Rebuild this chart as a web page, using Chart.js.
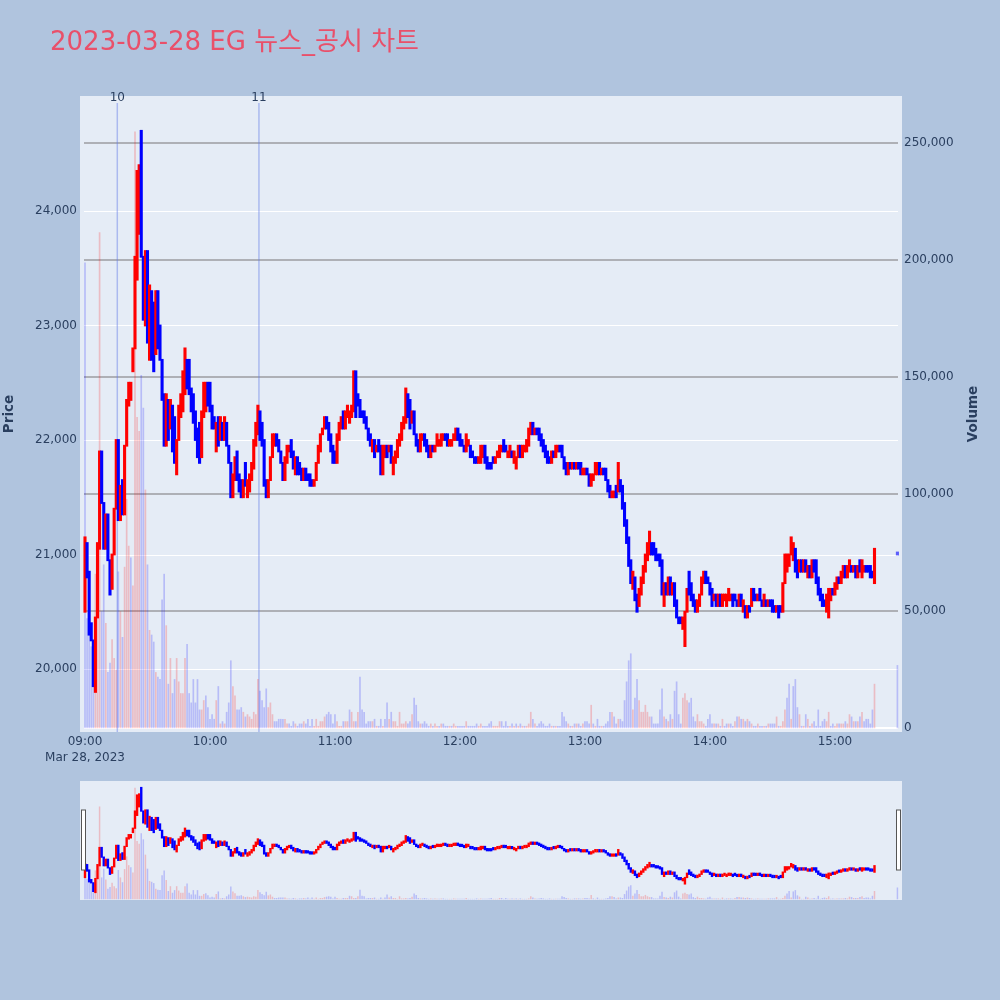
<!DOCTYPE html>
<html><head><meta charset="utf-8">
<script src="https://cdn.jsdelivr.net/npm/chart.js@4.4.0/dist/chart.umd.min.js"></script>
<style>
html,body{margin:0;padding:0;background:#B0C4DE;width:1000px;height:1000px;overflow:hidden}
#main{position:absolute;left:0;top:0}
#slider{position:absolute;left:0;top:770px}
</style></head><body>
<canvas id="main" width="1000" height="770"></canvas>
<canvas id="slider" width="1000" height="230"></canvas>
<script>
const chartTitle = "2023-03-28 EG 뉴스_공시 차트";
const dateLabel = "Mar 28, 2023";
const sessionStart = "09:00";
const timeTicks = ["09:00","10:00","11:00","12:00","13:00","14:00","15:00"];
const priceTicks = [20000,21000,22000,23000,24000];
const volumeTicks = [0,50000,100000,150000,200000,250000];
const newsTimes = ["09:15:30","10:23:30"];
const newsLabels = ["10","11"];

// one-minute candles from 09:00
const opens = [
20500,21100,20850,20400,20250,19800,20450,21050,21900,21450,
21050,21350,20950,20700,21000,21400,22000,21300,21650,21350,
21950,22300,22350,22600,22800,23400,23800,24700,23600,23000,
23650,22700,23300,23200,22750,23300,23000,22700,22400,21950,
22350,22100,22300,22200,21700,22000,22200,22250,22400,22700,
22700,22450,22400,22250,22100,22150,21850,22200,22250,22500,
22500,22300,22200,21900,22200,22000,22150,22000,22150,21950,
21800,21500,21650,21900,21700,21650,21500,21800,21500,21550,
21650,21750,21950,22050,22250,22150,22000,21650,21500,21650,
21850,21950,22050,22000,21900,21800,21650,21800,21900,22000,
21900,21700,21850,21800,21750,21650,21750,21700,21700,21650,
21600,21650,21800,21900,22050,22100,22200,22150,22050,21950,
21900,21800,22000,22100,22250,22100,22200,22150,22200,22250,
22600,22400,22350,22250,22250,22200,22100,22050,21900,22000,
21900,22000,21950,21700,21850,21950,21900,21950,21700,21800,
21850,21950,22000,22100,22150,22400,22350,22150,22250,22050,
22000,21900,22000,22050,22000,21950,21850,21950,21900,21950,
21950,21950,22000,22050,22050,21950,21950,22000,22000,22100,
22050,22000,21950,21900,21950,21950,21900,21850,21850,21800,
21800,21850,21950,21850,21800,21800,21850,21800,21850,21850,
21900,22000,21950,21850,21850,21900,21800,21750,21850,21950,
21850,21900,21900,21950,22050,22150,22050,22100,22100,22050,
22000,21950,21900,21850,21800,21900,21850,21900,21950,21950,
21850,21800,21700,21800,21750,21800,21750,21800,21800,21700,
21700,21750,21700,21600,21650,21700,21700,21800,21700,21750,
21750,21650,21600,21500,21500,21600,21550,21650,21600,21450,
21300,21150,20950,20700,20800,20650,20550,20650,20750,20850,
20950,21000,21100,21100,21050,21000,21000,20950,20550,20750,
20650,20800,20650,20750,20600,20450,20450,20350,20200,20500,
20850,20750,20650,20600,20500,20550,20650,20750,20850,20800,
20750,20700,20600,20650,20550,20650,20550,20600,20550,20600,
20600,20650,20650,20600,20550,20650,20500,20550,20450,20550,
20550,20700,20650,20600,20700,20600,20550,20600,20550,20600,
20600,20550,20500,20550,20550,20500,20750,20850,20900,21000,
20950,21050,20950,20850,20950,20850,20950,20800,20900,20800,
20950,20950,20800,20700,20650,20600,20500,20450,20600,20700,
20650,20700,20800,20750,20800,20900,20800,20850,20900,20850,
20900,20800,20950,20800,20850,20900,20900,20900,20850,20750];

const closes = [
21150,20800,20300,20250,19850,20450,21100,21900,21450,21050,
21350,20950,20650,21000,21400,22000,21300,21600,21350,21950,
22350,22500,22500,22800,23600,24350,24400,23600,23050,23650,
22850,23350,22700,22600,23300,22800,22700,22350,21950,22400,
22000,22350,21900,21800,22000,22300,22400,22600,22800,22450,
22400,22250,22150,22000,21850,21800,22250,22500,22500,22300,
22250,22100,22100,22150,21950,22200,22000,22200,21950,21800,
21500,21700,21850,21650,21550,21500,21650,21600,21650,21700,
21800,22000,22150,22300,22000,21950,21600,21500,21650,21850,
22050,22050,21950,21900,21800,21650,21850,21950,21950,21850,
21750,21850,21700,21700,21650,21750,21650,21650,21600,21600,
21650,21800,21950,22050,22100,22200,22100,22000,21900,21800,
21800,22050,22150,22200,22100,22250,22300,22250,22300,22600,
22200,22300,22200,22200,22150,22100,22000,21950,22000,21850,
21950,21900,21700,21950,21950,21850,21950,21800,21850,21900,
22000,22050,22150,22200,22450,22200,22100,22250,22050,21950,
21900,22050,22050,21950,21900,21850,21950,21900,21950,22050,
22000,22050,22050,22000,21950,22000,22000,22050,22100,22000,
21950,21950,21900,22050,22000,21850,21850,21800,21800,21850,
21950,21950,21800,21750,21750,21750,21800,21850,21900,21950,
21950,21900,21900,21900,21950,21850,21900,21850,21950,21850,
21950,21950,22000,22100,22150,22050,22100,22050,22000,21950,
21900,21850,21800,21800,21900,21850,21950,21950,21900,21850,
21750,21700,21800,21750,21800,21750,21800,21750,21700,21750,
21750,21700,21600,21700,21700,21800,21800,21700,21750,21700,
21650,21550,21500,21550,21550,21500,21800,21550,21400,21250,
21100,20900,20750,20850,20600,20500,20700,20800,20900,21000,
21100,21200,21000,21000,20950,20950,20900,20650,20750,20650,
20800,20650,20750,20550,20450,20400,20400,20450,20500,20700,
20650,20600,20550,20500,20600,20650,20800,20850,20750,20750,
20650,20550,20650,20550,20650,20550,20650,20650,20650,20700,
20650,20550,20600,20550,20650,20550,20600,20450,20550,20500,
20700,20600,20600,20650,20600,20550,20650,20550,20600,20550,
20500,20500,20550,20450,20500,20750,21000,21000,21000,21150,
21100,20850,20800,20950,20850,20950,20850,20900,20800,20950,
20850,20750,20650,20600,20550,20550,20650,20700,20700,20650,
20750,20800,20750,20850,20900,20800,20900,20950,20850,20900,
20800,20900,20850,20950,20900,20850,20850,20800,20800,21050];

const volumes = [
199000,47000,60000,35000,30000,66000,54000,212000,50000,70000,
45000,24000,28000,38000,30000,25000,67000,50000,39000,69000,
98000,78000,73000,61000,255000,133000,127000,151000,137000,102000,
70000,42000,40000,37000,24000,22000,21000,55000,66000,44000,
19000,30000,15000,21000,30000,20000,15000,15000,30000,36000,
15000,11000,21000,11000,21000,8000,8000,12000,14000,9000,
4000,6000,4000,12000,18000,2000,3000,2000,7000,11000,
29000,18000,14000,8000,8000,9000,7000,5000,6000,5000,
4000,7000,6000,21000,16000,12000,9000,17000,9000,11000,
6000,3000,3000,4000,4000,4000,4000,2000,2000,1000,
3000,2000,1000,2000,2000,3000,2000,4000,1000,4000,
1000,4000,1000,3000,3000,5000,6000,7000,6000,2000,
6000,3000,1000,1000,3000,3000,3000,8000,7000,3000,
3000,7000,22000,8000,7000,2000,3000,3000,3000,4000,
1000,1000,4000,1000,4000,11000,4000,7000,3000,3000,
1000,7000,2000,2000,3000,2000,3000,6000,13000,10000,
3000,2000,2000,3000,2000,1000,2000,1000,2000,1000,
1000,2000,2000,1000,1000,1000,1000,2000,1000,1000,
1000,1000,1000,3000,1000,1000,1000,1000,2000,1000,
2000,1000,1000,1000,2000,3000,1000,1000,1000,3000,
3000,1000,3000,1000,1000,2000,1000,2000,1000,2000,
1000,1000,1000,2000,7000,4000,2000,1000,2000,3000,
2000,1000,1000,2000,1000,1000,1000,1000,1000,7000,
5000,3000,2000,1000,1000,2000,2000,2000,1000,2000,
3000,3000,2000,10000,2000,1000,4000,1000,1000,1000,
2000,3000,7000,7000,5000,2000,4000,4000,3000,12000,
20000,29000,32000,8000,13000,21000,12000,7000,7000,10000,
7000,5000,5000,2000,2000,2000,8000,17000,5000,4000,
3000,6000,4000,16000,20000,6000,2000,13000,15000,12000,
11000,13000,5000,3000,6000,3000,3000,2000,1000,4000,
6000,2000,2000,2000,2000,1000,4000,1000,2000,2000,
2000,1000,3000,5000,5000,4000,4000,3000,4000,3000,
2000,1000,1000,2000,1000,1000,1000,1000,2000,2000,
2000,2000,5000,1000,1000,3000,8000,13000,19000,4000,
18000,21000,9000,6000,1000,1000,6000,4000,1000,2000,
3000,1000,8000,1000,3000,4000,3000,7000,1000,2000,
1000,2000,2000,2000,2000,3000,2000,6000,5000,3000,
3000,3000,5000,7000,3000,4000,4000,2000,8000,19000];

// closing single-price auction
const auctionTime = "15:30";
const auctionOpen = 21000;
const auctionClose = 21000;
const auctionVolume = 27000;

// ---------- styling ----------
const PLOT_BG = '#E5ECF6';
const UP = '#FF0000', DOWN = '#0000FF';
const UP_VOL = 'rgba(255,0,0,0.2)', DOWN_VOL = 'rgba(0,0,255,0.2)';
const TXT = '#2a3f5f';
const FONT = '"DejaVu Sans", "Noto Sans CJK KR", sans-serif';

function toMin(t){
  const p = t.split(':').map(Number), s = sessionStart.split(':').map(Number);
  return (p[0]-s[0])*60 + (p[1]-s[1]) + (p[2]||0)/60;
}

const candleData = [], candleColors = [], volData = [], volColors = [];
opens.forEach((o,i)=>{
  const c = closes[i];
  candleData.push({x:i, y:[o,c]});
  candleColors.push(c > o ? UP : DOWN);
  volData.push({x:i, y:volumes[i]});
  volColors.push(i>0 && c > closes[i-1] ? UP_VOL : DOWN_VOL);
});
{
  const ax = toMin(auctionTime);
  candleData.push({x:ax, y:[auctionOpen, auctionClose]});
  candleColors.push(auctionClose > auctionOpen ? UP : 'rgba(0,0,255,0.6)');
  volData.push({x:ax, y:auctionVolume});
  volColors.push(auctionClose > closes[closes.length-1] ? UP_VOL : DOWN_VOL);
}

const X_MIN = -2.4, X_MAX = 392.2;
const P_MIN = 19450, P_MAX = 25004;
const V_MIN = -1600, V_MAX = 270200;

function datasets(thin){
  return [
    {type:'bar', label:'candles', data:candleData, yAxisID:'y', order:1, grouped:false,
     backgroundColor:candleColors, borderWidth:0, barThickness: thin?1.2:1.3,
     inflateAmount: thin?0.6:0.9, minBarLength:2},
    {type:'bar', label:'volume', data:volData, yAxisID:'y2', order:2, grouped:false,
     backgroundColor:volColors, borderWidth:0, barThickness: thin?1.5:1.7, inflateAmount:0}
  ];
}

const mainDeco = {
  id:'mainDeco',
  beforeDraw(chart){
    const {ctx, chartArea:a} = chart;
    ctx.save(); ctx.fillStyle = PLOT_BG;
    ctx.fillRect(a.left, a.top, a.right-a.left, a.bottom-a.top); ctx.restore();
  },
  beforeDatasetsDraw(chart){
    const {ctx, chartArea:a, scales} = chart;
    const gx0 = a.left + 4, gx1 = a.right - 4;
    ctx.save();
    ctx.strokeStyle = '#ffffff'; ctx.lineWidth = 1;
    priceTicks.forEach(v=>{
      const y = Math.round(scales.y.getPixelForValue(v)) + 0.5;
      ctx.beginPath(); ctx.moveTo(gx0,y); ctx.lineTo(gx1,y); ctx.stroke();
    });
    volumeTicks.forEach(v=>{
      const y = Math.round(scales.y2.getPixelForValue(v));
      ctx.strokeStyle = v===0 ? '#ffffff' : '#AEB0B6'; ctx.lineWidth = 2;
      ctx.beginPath(); ctx.moveTo(gx0,y); ctx.lineTo(gx1,y); ctx.stroke();
    });
    ctx.strokeStyle = 'rgba(100,125,230,0.45)'; ctx.lineWidth = 1.5;
    newsTimes.forEach(t=>{
      const x = scales.x.getPixelForValue(toMin(t));
      ctx.beginPath(); ctx.moveTo(x, a.top + 7); ctx.lineTo(x, a.bottom); ctx.stroke();
    });
    ctx.restore();
  },
  afterDraw(chart){
    const {ctx, chartArea:a, scales} = chart;
    ctx.save();
    ctx.fillStyle = '#E9506A';
    ctx.font = '26px ' + FONT;
    ctx.textAlign = 'left'; ctx.textBaseline = 'alphabetic';
    ctx.fillText(chartTitle, 50, 50.3);
    ctx.fillStyle = TXT; ctx.font = '12px ' + FONT;
    ctx.textAlign = 'center'; ctx.textBaseline = 'middle';
    newsTimes.forEach((t,i)=>{
      ctx.fillText(newsLabels[i], scales.x.getPixelForValue(toMin(t)), a.top + 1.5);
    });
    ctx.translate(973, (a.top + a.bottom)/2);
    ctx.rotate(-Math.PI/2);
    ctx.font = 'bold 13.5px ' + FONT;
    ctx.fillText('Volume', 0, 0);
    ctx.restore();
  }
};

new Chart(document.getElementById('main'), {
  type:'bar',
  data:{datasets:datasets(false)},
  options:{
    responsive:false, animation:false, events:[],
    layout:{padding:{top:96, left:0, right:0, bottom:0}},
    plugins:{legend:{display:false}, tooltip:{enabled:false}, title:{display:false}},
    scales:{
      x:{type:'linear', min:X_MIN, max:X_MAX, offset:false,
         grid:{display:false, drawTicks:false, offset:false}, border:{display:false},
         afterBuildTicks:s=>{ s.ticks = timeTicks.map(t=>({value:toMin(t)})); },
         afterFit:s=>{ s.height = 38; },
         ticks:{padding:2, color:TXT, autoSkip:false, maxRotation:0, minRotation:0,
                font:{family:FONT, size:12, lineHeight:1.34},
                callback:(v,i)=> i===0 ? [timeTicks[i], dateLabel] : timeTicks[i]}},
      y:{type:'linear', position:'left', min:P_MIN, max:P_MAX,
         grid:{display:false, drawTicks:false}, border:{display:false},
         afterBuildTicks:s=>{ s.ticks = priceTicks.map(v=>({value:v})); },
         afterFit:s=>{ s.width = 80; },
         ticks:{padding:3, color:TXT, font:{family:FONT, size:12},
                callback:v=>Number(v).toLocaleString('en-US')},
         title:{display:true, text:'Price', color:TXT, padding:{top:1,bottom:0},
                font:{family:FONT, size:13.5, weight:'bold'}}},
      y2:{type:'linear', position:'right', min:V_MIN, max:V_MAX,
         grid:{display:false, drawTicks:false}, border:{display:false},
         afterBuildTicks:s=>{ s.ticks = volumeTicks.map(v=>({value:v})); },
         afterFit:s=>{ s.width = 98; },
         ticks:{padding:2, color:TXT, font:{family:FONT, size:12},
                callback:v=>Number(v).toLocaleString('en-US')}}
    }
  },
  plugins:[mainDeco]
});

const sliderDeco = {
  id:'sliderDeco',
  beforeDraw(chart){
    const {ctx, chartArea:a} = chart;
    ctx.save(); ctx.fillStyle = PLOT_BG;
    ctx.fillRect(a.left, a.top, a.right-a.left, a.bottom-a.top); ctx.restore();
  },
  afterDraw(chart){
    const {ctx, chartArea:a} = chart;
    ctx.save();
    ctx.fillStyle = '#ffffff'; ctx.strokeStyle = '#555555'; ctx.lineWidth = 1;
    const hy = a.top + 29, hh = 60;
    [[a.left + 1.5, 4],[a.right - 5.5, 4]].forEach(([x,w])=>{
      ctx.fillRect(x, hy, w, hh); ctx.strokeRect(x, hy, w, hh);
    });
    ctx.restore();
  }
};

new Chart(document.getElementById('slider'), {
  type:'bar',
  data:{datasets:datasets(true)},
  options:{
    responsive:false, animation:false, events:[],
    layout:{padding:{top:11, left:80, right:98, bottom:100}},
    plugins:{legend:{display:false}, tooltip:{enabled:false}, title:{display:false}},
    scales:{
      x:{type:'linear', display:false, min:X_MIN, max:X_MAX, offset:false},
      y:{type:'linear', display:false, min:P_MIN, max:P_MAX},
      y2:{type:'linear', display:false, min:V_MIN, max:V_MAX}
    }
  },
  plugins:[sliderDeco]
});
</script>
</body></html>
